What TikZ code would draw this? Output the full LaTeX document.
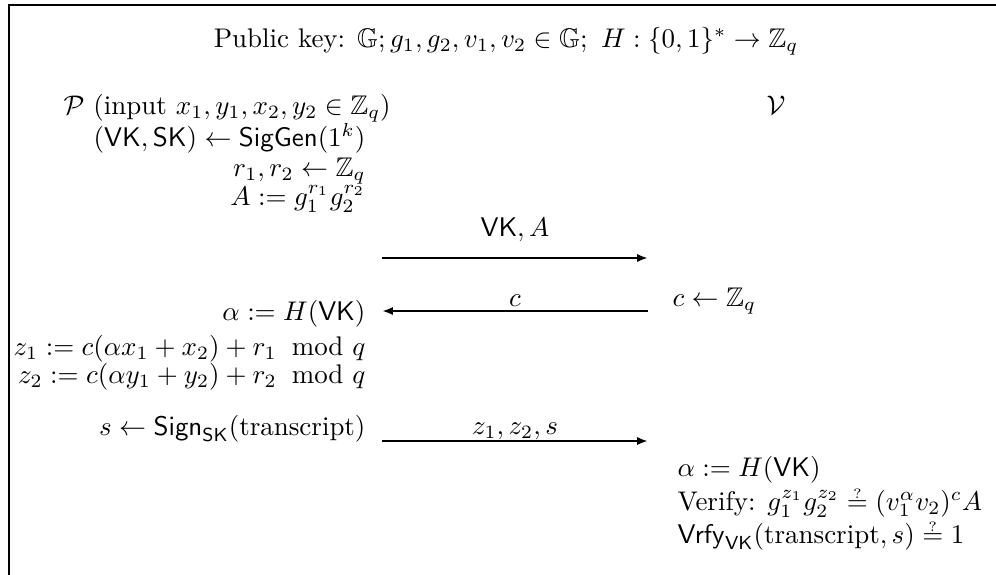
\documentclass[tikz,border=0pt]{standalone}
\usepackage{amsmath,amssymb}
\usetikzlibrary{arrows.meta}
\newcommand{\qeq}{\mathrel{\vbox{\offinterlineskip\halign{\hfil##\hfil\cr$\scriptscriptstyle ?$\cr\noalign{\kern0.6pt}$=$\cr}}}}
\newcommand{\mymod}{\mkern10mu\mathrm{mod}\mkern6mu}
\begin{document}
\begin{tikzpicture}[x=0.371pt,y=-0.371pt,
  txt/.style={inner sep=0pt},
  msg/.style={line width=0.8pt,-{Latex[length=4pt,width=3pt]}},
  frame/.style={line width=0.8pt}]
\useasboundingbox (0,0) rectangle (996,575);
\clip (0,0) rectangle (996,575);
\draw[frame] (9,600) -- (9,5) -- (1010,5);
\node[txt,anchor=base] (pk) at (506,47) {Public key: $\mathbb{G}; g_1,g_2,v_1,v_2\in\mathbb{G};\ H:\{0,1\}^*\to\mathbb{Z}_q$};
\node[txt,anchor=base west] (P) at (63,114) {$\mathcal{P}$ (input $x_1,y_1,x_2,y_2\in\mathbb{Z}_q$)};
\node[txt,anchor=base] (V) at (776,114) {$\mathcal{V}$};
\node[txt,anchor=base east] (kg) at (366,146) {$(\mathsf{VK},\mathsf{SK})\leftarrow\mathsf{SigGen}(1^k)$};
\node[txt,anchor=base east] (r) at (366,176) {$r_1,r_2\leftarrow\mathbb{Z}_q$};
\node[txt,anchor=base east] (A) at (366,205) {$A:=g_1^{r_1}g_2^{r_2}$};
\coordinate (m1s) at (382,258);
\coordinate (m1e) at (648,258);
\draw[msg] (m1s) -- (m1e);
\node[txt,anchor=base] (l1) at (515,236) {$\mathsf{VK},A$};
\node[txt,anchor=base east] (al) at (366,320) {$\alpha:=H(\mathsf{VK})$};
\node[txt,anchor=base west] (c) at (672,306) {$c\leftarrow\mathbb{Z}_q$};
\coordinate (m2s) at (648,311);
\coordinate (m2e) at (382,311);
\draw[msg] (m2s) -- (m2e);
\node[txt,anchor=base] (l2) at (515,306) {$c$};
\node[txt,anchor=base east] (z1) at (366,355) {$z_1:=c(\alpha x_1+x_2)+r_1\mymod q$};
\node[txt,anchor=base east] (z2) at (366,383) {$z_2:=c(\alpha y_1+y_2)+r_2\mymod q$};
\node[txt,anchor=base east] (s) at (366,435) {$s\leftarrow\mathsf{Sign}_{\mathsf{SK}}(\text{transcript})$};
\coordinate (m3s) at (382,441);
\coordinate (m3e) at (648,441);
\draw[msg] (m3s) -- (m3e);
\node[txt,anchor=base] (l3) at (515,434) {$z_1,z_2,s$};
\node[txt,anchor=base west] (ar) at (677,476) {$\alpha:=H(\mathsf{VK})$};
\node[txt,anchor=base west] (ver) at (677,510) {Verify: $g_1^{z_1}g_2^{z_2}\qeq(v_1^{\alpha}v_2)^cA$};
\node[txt,anchor=base west] (vr) at (677,543) {$\mathsf{Vrfy}_{\mathsf{VK}}(\text{transcript},s)\qeq 1$};
\end{tikzpicture}
\end{document}
